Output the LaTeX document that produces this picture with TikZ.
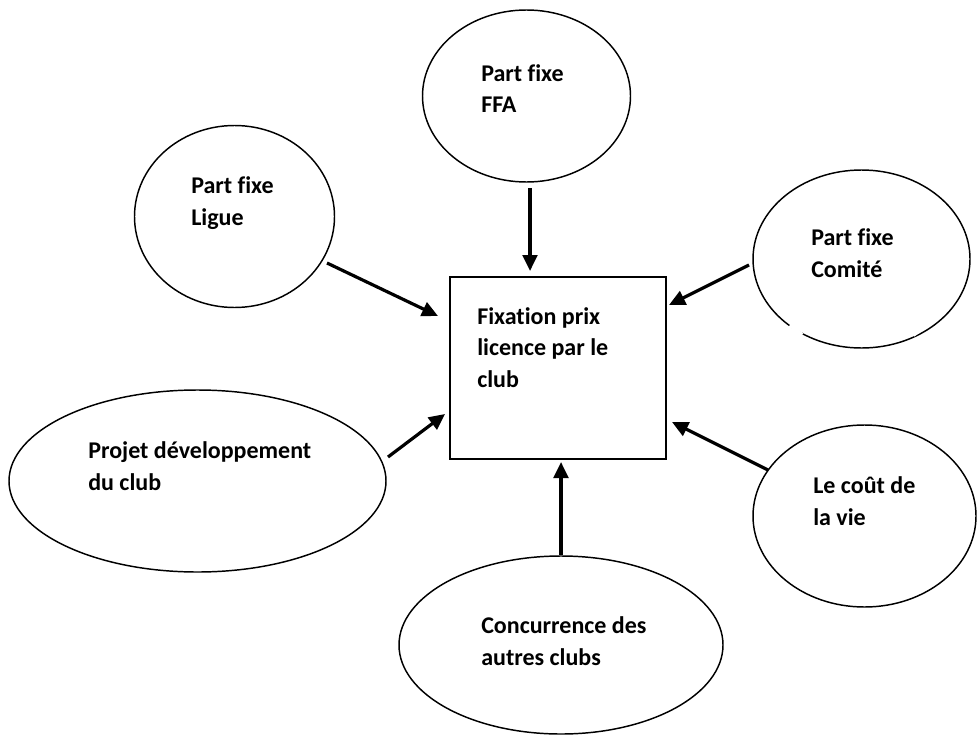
\documentclass[tikz,border=0pt]{standalone}
\usepackage{fontspec}
\setmainfont[Ligatures=NoCommon]{Carlito}
\usetikzlibrary{arrows.meta,calc,shapes.geometric}

\begin{document}
\begin{tikzpicture}[x=0.75pt,y=-0.75pt,
        bulle/.style={draw,ellipse,line width=1.1pt,inner sep=0pt},
        txt/.style={anchor=base west,align=left,inner sep=0pt,font=\fontsize{18}{23.6}\selectfont\bfseries},
        fleche/.style={line width=2.4pt,-{Triangle[length=12pt,width=11pt]}}]
                \useasboundingbox (0,0) rectangle (977,735);

                \node[draw,line width=1.5pt,minimum width=162pt,minimum height=136.5pt,inner sep=0pt] (fix) at (558,368) {};

                \node[bulle,minimum width=156pt,minimum height=129pt] (ffa) at (526.5,96) {};
                \node[bulle,minimum width=150pt,minimum height=136.5pt] (ligue) at (234.5,216.5) {};
                \node[bulle,minimum width=162.75pt,minimum height=133.5pt] (comite) at (861.5,259) {};
                \node[bulle,minimum width=167.25pt,minimum height=136.5pt] (cout) at (864.5,516) {};
                \node[bulle,minimum width=282.75pt,minimum height=136.5pt] (projet) at (197.5,481) {};
                \node[bulle,minimum width=243pt,minimum height=133.5pt] (conc) at (561,645) {};

                \draw[white,line width=3pt] ($(comite.center)+(-71.5,66)$) -- ($(comite.center)+(-59.5,76)$);
                \draw[white,line width=3pt] ($(comite.center)+(51.5,76)$) -- ($(comite.center)+(61.5,69)$);

                \node[txt] (tfix) at (477,387) {Fixation prix\\licence par le\\club};
                \node[txt] (tffa) at (481,113) {Part fixe\\FFA};
                \node[txt] (tligue) at (191,225) {Part fixe\\Ligue};
                \node[txt] (tcomite) at (811,277) {Part fixe\\Comité};
                \node[txt] (tcout) at (813,525) {Le coût de\\la vie};
                \node[txt] (tprojet) at (88,490) {Projet développement\\du club};
                \node[txt] (tconc) at (481,665) {Concurrence des\\autres clubs};

                \draw[fleche] ($(ffa.center)+(3.5,92)$) -- ($(fix.north)+(-28,-5)$);
                \draw[fleche] ($(ligue.center)+(92.5,46.5)$) -- ($(fix.north west)+(-11,40)$);
                \draw[fleche] ($(comite.center)+(-112.5,6)$) -- ($(fix.north east)+(2,29)$);
                \draw[fleche] ($(projet.center)+(190.5,-24)$) -- ($(fix.south west)+(-4,-46)$);
                \draw[fleche] ($(cout.center)+(-96.5,-46)$) -- ($(fix.south east)+(5,-38)$);
                \draw[fleche] ($(conc.center)+(0,-90)$) -- ($(fix.south)+(3,2)$);
            \end{tikzpicture}
\end{document}
